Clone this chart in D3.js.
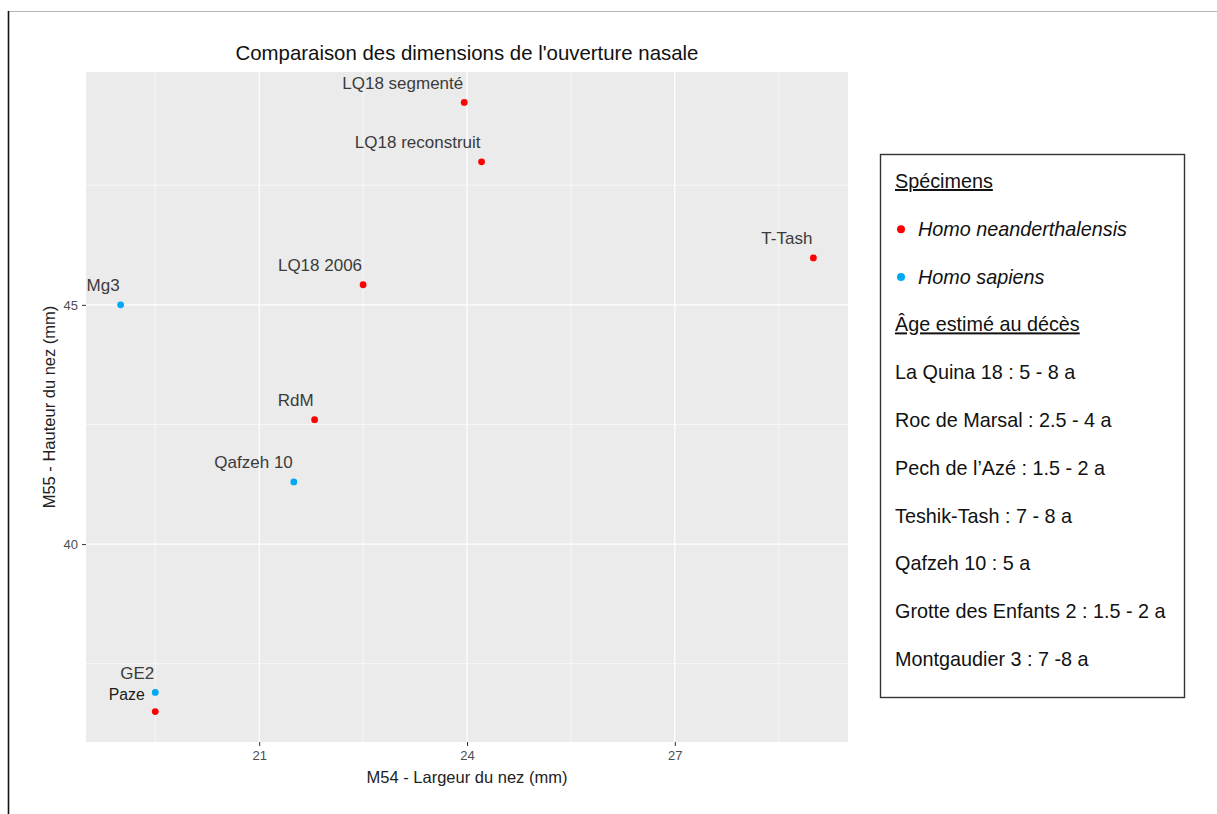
<!DOCTYPE html>
<html lang="fr">
<head>
<meta charset="utf-8">
<title>Comparaison des dimensions de l'ouverture nasale</title>
<script src="https://cdn.jsdelivr.net/npm/d3@7"></script>
<style>
  html, body { margin: 0; padding: 0; background: #fff; }
  svg { display: block; font-family: "Liberation Sans", Arial, sans-serif; }
</style>
</head>
<body>
<svg id="chart" width="1217" height="814"></svg>
<script>
// Specimens: nasal aperture width (M54) and height (M55), in mm
const specimens = ["LQ18 segmenté", "LQ18 reconstruit", "T-Tash", "LQ18 2006", "Mg3", "RdM", "Qafzeh 10", "GE2", "Paze"];
const m54 = [23.96, 24.21, 29.0, 22.5, 19.0, 21.8, 21.5, 19.5, 19.5];
const m55 = [49.23, 47.99, 45.98, 45.42, 45.0, 42.6, 41.3, 36.9, 36.5];
const species = ["nean", "nean", "nean", "nean", "sap", "nean", "sap", "sap", "nean"];

const xTicks = [21, 24, 27];
const yTicks = [40, 45];

const speciesNames = ["Homo neanderthalensis", "Homo sapiens"];
const speciesKeys = ["nean", "sap"];
const ageLines = [
  "La Quina 18 : 5 - 8 a",
  "Roc de Marsal : 2.5 - 4 a",
  "Pech de l\u2019Azé : 1.5 - 2 a",
  "Teshik-Tash : 7 - 8 a",
  "Qafzeh 10 : 5 a",
  "Grotte des Enfants 2 : 1.5 - 2 a",
  "Montgaudier 3 : 7 -8 a"
];

const colors = { nean: "#ff0000", sap: "#00a9f4" };

const svg = d3.select("#chart");

// page frame
svg.append("line").attr("x1", 8).attr("x2", 1217).attr("y1", 11.5).attr("y2", 11.5)
  .attr("stroke", "#b5b5b5").attr("stroke-width", 1);
svg.append("line").attr("x1", 8.5).attr("x2", 8.5).attr("y1", 11).attr("y2", 814)
  .attr("stroke", "#111").attr("stroke-width", 1.6);

// plot panel
const panel = { left: 86, right: 848, top: 72, bottom: 742 };

function expanded(values) {
  const [lo, hi] = d3.extent(values);
  const pad = (hi - lo) * 0.05;
  return [lo - pad, hi + pad];
}

const x = d3.scaleLinear().domain(expanded(m54)).range([panel.left, panel.right]);
const y = d3.scaleLinear().domain(expanded(m55)).range([panel.bottom, panel.top]);

svg.append("rect")
  .attr("x", panel.left).attr("y", panel.top)
  .attr("width", panel.right - panel.left).attr("height", panel.bottom - panel.top)
  .attr("fill", "#ebebeb");

// minor grid (midpoints between major ticks)
const xStep = xTicks[1] - xTicks[0];
const yStep = yTicks[1] - yTicks[0];
const xMinor = d3.range(xTicks[0] - xStep / 2, x.domain()[1], xStep).filter(v => v > x.domain()[0]);
const yMinor = d3.range(yTicks[0] - yStep / 2, y.domain()[1], yStep).filter(v => v > y.domain()[0]);

const grid = svg.append("g");
grid.selectAll(".xminor").data(xMinor).join("line")
  .attr("x1", d => x(d)).attr("x2", d => x(d)).attr("y1", panel.top).attr("y2", panel.bottom)
  .attr("stroke", "#fff").attr("stroke-width", 0.6);
grid.selectAll(".yminor").data(yMinor).join("line")
  .attr("y1", d => y(d)).attr("y2", d => y(d)).attr("x1", panel.left).attr("x2", panel.right)
  .attr("stroke", "#fff").attr("stroke-width", 0.6);
grid.selectAll(".xmajor").data(xTicks).join("line")
  .attr("x1", d => x(d)).attr("x2", d => x(d)).attr("y1", panel.top).attr("y2", panel.bottom)
  .attr("stroke", "#fff").attr("stroke-width", 1.2);
grid.selectAll(".ymajor").data(yTicks).join("line")
  .attr("y1", d => y(d)).attr("y2", d => y(d)).attr("x1", panel.left).attr("x2", panel.right)
  .attr("stroke", "#fff").attr("stroke-width", 1.2);

// axes
const xAxis = svg.append("g").attr("transform", `translate(0,${panel.bottom})`)
  .call(d3.axisBottom(x).tickValues(xTicks).tickSize(4).tickPadding(5).tickSizeOuter(0));
const yAxis = svg.append("g").attr("transform", `translate(${panel.left},0)`)
  .call(d3.axisLeft(y).tickValues(yTicks).tickSize(4).tickPadding(4).tickSizeOuter(0));
[xAxis, yAxis].forEach(a => {
  a.select(".domain").remove();
  a.selectAll(".tick line").attr("stroke", "#333").attr("stroke-width", 1);
  a.selectAll(".tick text").attr("fill", "#4d4d4d").style("font-size", "13px")
    .style("font-family", "'Liberation Sans', Arial, sans-serif");
});

// points
const rows = specimens.map((name, i) => ({ name, x: m54[i], y: m55[i], sp: species[i] }));

svg.append("g").selectAll("circle").data(rows).join("circle")
  .attr("cx", d => x(d.x)).attr("cy", d => y(d.y)).attr("r", 3.4)
  .attr("fill", d => colors[d.sp]);

// point labels, right-aligned above each point
svg.append("g").selectAll("text").data(rows).join("text")
  .attr("x", d => d.name === "Paze" ? x(d.x) - 10.5 : x(d.x) - 1)
  .attr("y", d => d.name === "Paze" ? y(d.y) - 11.5 : y(d.y) - 13.5)
  .attr("text-anchor", "end")
  .attr("fill", d => d.name === "Paze" ? "#1a1a1a" : "#3b3b3b")
  .style("font-size", d => d.name === "Paze" ? "15.8px" : "17px")
  .text(d => d.name);

// titles
svg.append("text").attr("x", (panel.left + panel.right) / 2).attr("y", 60)
  .attr("text-anchor", "middle").attr("fill", "#111").style("font-size", "20.4px")
  .text("Comparaison des dimensions de l'ouverture nasale");
svg.append("text").attr("x", (panel.left + panel.right) / 2).attr("y", 783)
  .attr("text-anchor", "middle").attr("fill", "#222").style("font-size", "16.5px")
  .text("M54 - Largeur du nez (mm)");
svg.append("text")
  .attr("transform", `translate(55,${(panel.top + panel.bottom) / 2}) rotate(-90)`)
  .attr("text-anchor", "middle").attr("fill", "#222").style("font-size", "16.5px")
  .text("M55 - Hauteur du nez (mm)");

// legend box
const leg = svg.append("g");
leg.append("rect").attr("x", 880.5).attr("y", 154.5).attr("width", 304).attr("height", 543)
  .attr("fill", "#fff").attr("stroke", "#333").attr("stroke-width", 1.4);

const legX = 895;
const rowH = 47.8;
const firstBase = 188;
const legFont = "19.8px";

leg.append("text").attr("x", legX).attr("y", firstBase)
  .style("font-size", legFont).style("text-decoration", "underline").attr("fill", "#111")
  .text("Spécimens");

speciesNames.forEach((name, i) => {
  const base = firstBase + rowH * (i + 1);
  leg.append("circle").attr("cx", 901).attr("cy", base - 6.5).attr("r", 4)
    .attr("fill", colors[speciesKeys[i]]);
  leg.append("text").attr("x", 918).attr("y", base)
    .style("font-size", legFont).style("font-style", "italic").attr("fill", "#111")
    .text(name);
});

leg.append("text").attr("x", legX).attr("y", firstBase + rowH * 3)
  .style("font-size", legFont).style("text-decoration", "underline").attr("fill", "#111")
  .text("Âge estimé au décès");

leg.selectAll(".age").data(ageLines).join("text")
  .attr("x", legX).attr("y", (d, i) => firstBase + rowH * (i + 4))
  .style("font-size", legFont).attr("fill", "#111")
  .text(d => d);
</script>
</body>
</html>
